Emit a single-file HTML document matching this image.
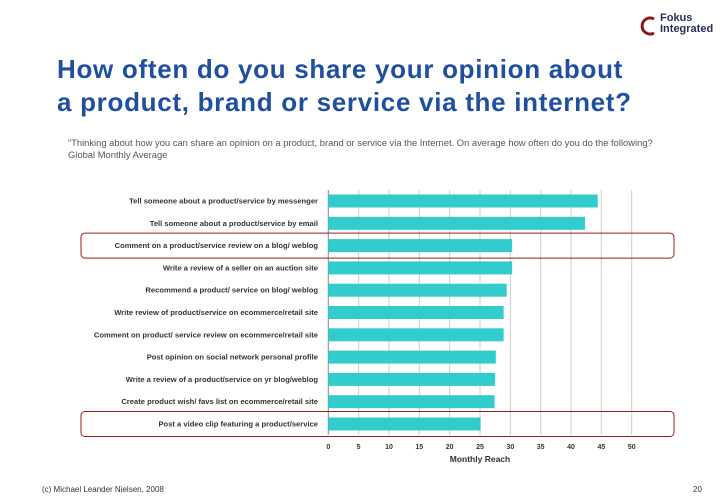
<!DOCTYPE html>
<html><head><meta charset="utf-8"><style>
body{margin:0;width:728px;height:504px;background:#fff;position:relative;overflow:hidden;font-family:"Liberation Sans",sans-serif}
.t{position:absolute;left:57px;top:53px;color:#1f4f9e;font-weight:bold;font-size:26px;line-height:33px;letter-spacing:0.7px}
.s{position:absolute;left:68px;top:137px;color:#555;font-size:9.4px;line-height:11.5px}
.f{position:absolute;top:485px;font-size:8px;color:#333}
</style></head><body>
<div class="t">How often do you share your opinion about<br>a product, brand or service via the internet?</div>
<div class="s">“Thinking about how you can share an opinion on a product, brand or service via the Internet. On average how often do you do the following?<br>Global Monthly Average</div>
<div style="position:absolute;left:640px;top:13px;width:90px;height:26px">
<svg width="20" height="22" style="position:absolute;left:0;top:2px"><path d="M14 4 A8 8 0 1 0 14 18" stroke="#8b1a1a" stroke-width="3" fill="none"/></svg>
<div style="position:absolute;left:20px;top:0;font-size:11px;line-height:11px;color:#2a2f5a;font-weight:bold">Fokus<br>Integrated</div></div>
<svg id="c" width="728" height="504" style="position:absolute;left:0;top:0"></svg>
<div class="f" style="left:42px">(c) Michael Leander Nielsen, 2008</div>
<div class="f" style="left:693px">20</div>
<script>
const categories=["Tell someone about a product/service by messenger","Tell someone about a product/service by email","Comment on a product/service review on a blog/ weblog","Write a review of a seller on an auction site","Recommend a product/ service on blog/ weblog","Write review of product/service on ecommerce/retail site","Comment on product/ service review on ecommerce/retail site","Post opinion on social network personal profile","Write a review of a product/service on yr blog/weblog","Create product wish/ favs list on ecommerce/retail site","Post a video clip featuring a product/service"];
const values=[44.4,42.3,30.3,30.3,29.4,28.9,28.9,27.6,27.5,27.4,25.1];
const ticks=[0,5,10,15,20,25,30,35,40,45,50];
const highlighted=[2,10];
const svg=document.getElementById('c');const NS='http://www.w3.org/2000/svg';
const x0=328.3,x1=631.7,yTop=190,yBottom=435,pitch=22.3,firstY=201;
const xs=v=>x0+(x1-x0)*v/50;const yc=i=>firstY+i*pitch;
function mk(t,a){const e=document.createElementNS(NS,t);for(const k in a)e.setAttribute(k,a[k]);svg.appendChild(e);return e;}
ticks.forEach(t=>{const g=mk('line',{x1:xs(t),x2:xs(t),y1:yTop,y2:yBottom,stroke:t===0?'#888':'#ccc','stroke-width':1});


const l=mk('text',{x:xs(t),y:449,'text-anchor':'middle','font-size':7,'font-weight':'bold',fill:'#333'});l.textContent=t;

});
values.forEach((v,i)=>{const r=mk('rect',{x:x0,y:yc(i)-6.5,width:xs(v)-x0,height:13,fill:'#33cccc'});


const l=mk('text',{x:318,y:yc(i)+2.5,'text-anchor':'end','font-size':7.6,'font-weight':'bold',fill:'#333'});l.textContent=categories[i];

});
highlighted.forEach(i=>{const h=mk('rect',{x:81,y:yc(i)-12.5,width:593,height:25,rx:4,fill:'none',stroke:'#9b1c1c','stroke-width':1});

});
const at=mk('text',{x:xs(25),y:462,'text-anchor':'middle','font-size':8.5,'font-weight':'bold',fill:'#333'});at.textContent='Monthly Reach';


</script>
</body></html>
